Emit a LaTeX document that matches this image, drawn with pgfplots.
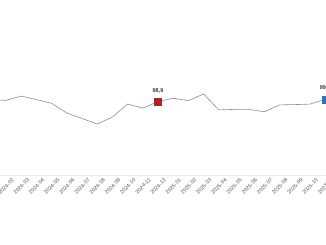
\documentclass[border=0pt]{standalone}
\usepackage{fontspec}
\setmainfont{Liberation Sans}
\usepackage{pgfplots}
\pgfplotsset{compat=1.18}
\definecolor{linegray}{HTML}{8C8C8C}
\definecolor{mred}{HTML}{A8262B}
\definecolor{mblue}{HTML}{2E75B6}
\definecolor{axgray}{HTML}{E8E8E8}
\definecolor{lblgray}{HTML}{555555}
\begin{document}
\begin{tikzpicture}[x=1pt,y=1pt]
\useasboundingbox (0,0) rectangle (326,245);
\begin{axis}[
  at={(0pt,70pt)}, anchor=south west,
  scale only axis, width=326pt, height=175pt,
  xmin=0.605, xmax=22.05, ymin=71.34, ymax=137.13,
  axis y line=none, axis x line=bottom,
  x axis line style={draw=axgray, line width=0.8pt, -},
  major tick length=0pt,
  xtick={0,...,22},
  xticklabels={2024-01,2024-02,2024-03,2024-04,2024-05,2024-06,2024-07,2024-08,2024-09,2024-10,2024-11,2024-12,2025-01,2025-02,2025-03,2025-04,2025-05,2025-06,2025-07,2025-08,2025-09,2025-10,2025-11},
  x tick label style={rotate=45, anchor=north east, inner sep=0pt, xshift=2pt, yshift=-6pt,
     font=\fontsize{5.3}{6}\selectfont, text=lblgray},
  clip marker paths=false,
]
\addplot[linegray, line width=0.6pt, mark=none] coordinates {
(0,99.7) (1,99.4) (2,101.0) (3,99.7) (4,98.3) (5,94.65) (6,92.6) (7,90.5) (8,93.15) (9,98.0) (10,96.5) (11,98.9)
(12,100.2) (13,99.3) (14,101.8) (15,95.8) (16,96.0) (17,96.0) (18,95.1) (19,97.7) (20,97.8) (21,98.0) (22,99.8)
};
\addplot[only marks, mark=square*, mark size=3.5pt, mark options={fill=mred, draw=mred},
  point meta=explicit symbolic, nodes near coords,
  nodes near coords style={anchor=south, inner sep=0pt, yshift=8.5pt, font=\fontsize{5.5}{6}\selectfont\bfseries, text=black!80}]
  coordinates {(11,98.9) [98,9]};
\addplot[only marks, mark=square*, mark size=3.5pt, mark options={fill=mblue, draw=mblue},
  point meta=explicit symbolic, nodes near coords,
  nodes near coords style={anchor=south, inner sep=0pt, yshift=8.5pt, font=\fontsize{5.5}{6}\selectfont\bfseries, text=black!80}]
  coordinates {(22,99.8) [99,8]};
\end{axis}
\end{tikzpicture}
\end{document}
